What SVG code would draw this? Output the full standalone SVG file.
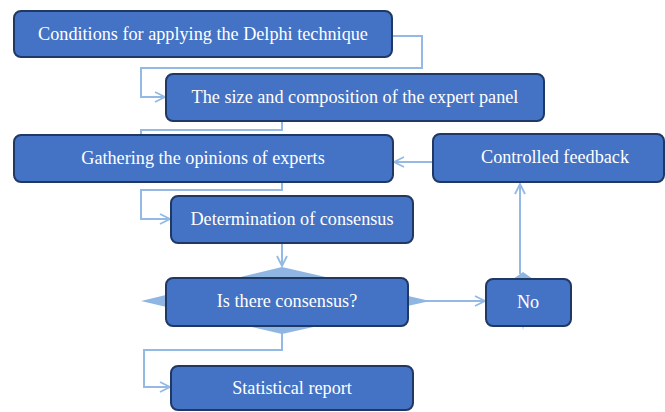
<svg xmlns="http://www.w3.org/2000/svg" width="665" height="412" viewBox="0 0 665 412">
<defs>
<style>
.box{fill:#4472C4;stroke:#1F3864;stroke-width:2}
.t{fill:#fff;font-family:'Liberation Serif','DejaVu Serif',serif;font-size:18.2px;text-anchor:middle;dominant-baseline:central}
.c{fill:none;stroke:#93B9E4;stroke-width:2}
.dia{fill:#8FB6E2;stroke:none}
</style>
<marker id="ah" viewBox="0 0 12 12" refX="11" refY="6" markerWidth="12" markerHeight="12" markerUnits="userSpaceOnUse" orient="auto">
<path d="M1,1 L11,6 L1,11" fill="none" stroke="#93B9E4" stroke-width="1.8"/>
</marker>
</defs>
<rect width="665" height="412" fill="#fff"/>
<g id="connectors">
<polyline class="c" points="392,36 422,36 422,68 141,68 141,97 165,97" marker-end="url(#ah)"/>
<polyline class="c" points="282,121 282,130 141,130 141,140"/>
<polyline class="c" points="282,182 282,190 141,190 141,219 170,219" marker-end="url(#ah)"/>
<line class="c" x1="433" y1="162" x2="394" y2="162" marker-end="url(#ah)"/>
<line class="c" x1="282" y1="243" x2="282" y2="266" marker-end="url(#ah)"/>
<line class="c" x1="425" y1="301" x2="485" y2="301" marker-end="url(#ah)"/>
<line class="c" x1="520" y1="274" x2="520" y2="184" marker-end="url(#ah)"/>
<polyline class="c" points="282,333 282,350 144,350 144,387 170,387" marker-end="url(#ah)"/>
</g>
<g id="n1"><rect class="box" x="14" y="11" width="378" height="46" rx="7"/><text class="t" x="203" y="34">Conditions for applying the Delphi technique</text></g>
<g id="n2"><rect class="box" x="166" y="74" width="378" height="47" rx="7"/><text class="t" x="355" y="97">The size and composition of the expert panel</text></g>
<g id="n3"><rect class="box" x="14" y="135" width="379" height="47" rx="7"/><text class="t" x="203" y="158">Gathering the opinions of experts</text></g>
<g id="n4"><rect class="box" x="433" y="134" width="231" height="48" rx="7"/><text class="t" x="555" y="157">Controlled feedback</text></g>
<g id="n5"><rect class="box" x="171" y="196" width="242" height="47" rx="7"/><text class="t" x="292" y="219">Determination of consensus</text></g>
<g id="n6"><polygon class="dia" points="282,267 430,301 282,334 141,301"/><rect class="box" x="166" y="278" width="242" height="48" rx="7"/><text class="t" x="287" y="301">Is there consensus?</text></g>
<g id="n7"><polygon class="dia" points="523,272 533,279 523,330 513,279"/><rect class="box" x="486" y="279" width="85" height="47" rx="7"/><text class="t" x="528" y="302">No</text></g>
<g id="n8"><rect class="box" x="171" y="366" width="242" height="44" rx="7"/><text class="t" x="292" y="388">Statistical report</text></g>
</svg>
